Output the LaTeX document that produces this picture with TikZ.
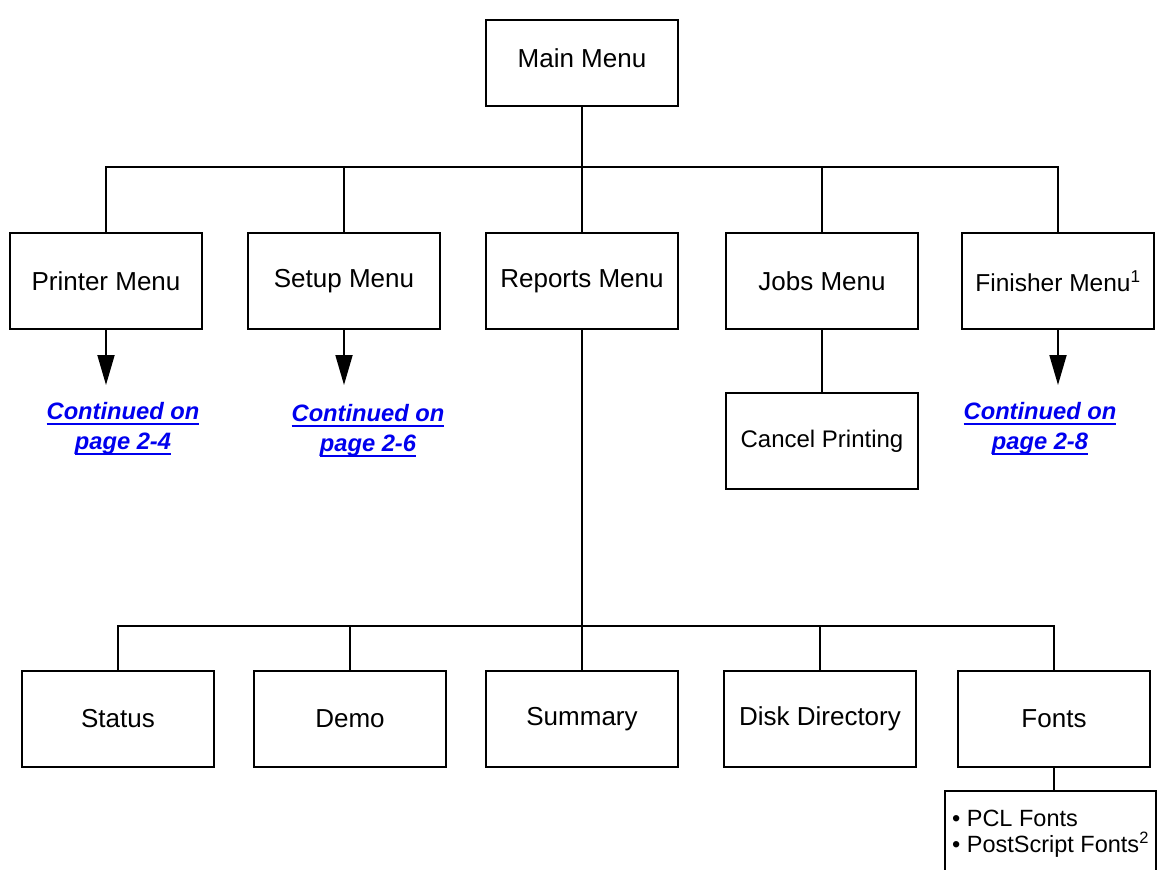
\documentclass[tikz,border=0pt]{standalone}
\usepackage{fontspec}
\setmainfont{Liberation Sans}
\usepackage{xcolor}
\usetikzlibrary{positioning,arrows.meta}
\definecolor{linkblue}{RGB}{0,0,238}
\newcommand{\ulink}[1]{\setbox0\hbox{#1}\leavevmode\rlap{\rule[-6pt]{\wd0}{2pt}}\box0}

\tikzset{
    menubox/.style={draw, rectangle, line width=1.8pt, minimum width=192pt, minimum height=96pt, inner sep=2pt, outer sep=0pt, font=\fontsize{26}{30}\selectfont},
    link/.style={text=linkblue, align=center, inner sep=0pt, font=\fontsize{23.7}{30}\selectfont\bfseries\itshape},
    tree/.style={line width=1.8pt},
    cont/.style={line width=1.8pt, -{Triangle[length=30pt,width=17pt]}}
}

\begin{document}
\begin{tikzpicture}[x=1pt, y=-1pt]
    \useasboundingbox (0,0) rectangle (1162,870);
    \clip (0,0) rectangle (1162,870);

    \node [menubox, minimum height=86pt, text depth=10pt] (main) at (582,63) {Main Menu};
    \coordinate [below=61pt of main] (topbus);

    % first level
    \node [menubox, below=127pt of main] (reports) {Reports Menu};
    \node [menubox, left=46pt of reports] (setup) {Setup Menu};
    \node [menubox, left=46pt of setup] (printer) {Printer Menu};
    \node [menubox, right=48pt of reports] (jobs) {Jobs Menu};
    \node [menubox, right=44pt of jobs, font=\fontsize{24.5}{28}\selectfont] (finisher) {Finisher Menu\textsuperscript{1}};
    \node [menubox, below=64pt of jobs, font=\fontsize{24}{28}\selectfont] (cancel) {Cancel Printing};

    % continued links
    \coordinate [below=56pt of printer] (printer-tip);
    \coordinate [below=56pt of setup] (setup-tip);
    \coordinate [below=56pt of finisher] (finisher-tip);
    \node [link, below=17pt of printer-tip, xshift=17pt] (printer-link) {\ulink{Continued on}\\\ulink{page 2-4}};
    \node [link, below=19pt of setup-tip, xshift=24pt] (setup-link) {\ulink{Continued on}\\\ulink{page 2-6}};
    \node [link, below=17pt of finisher-tip, xshift=-18pt] (finisher-link) {\ulink{Continued on}\\\ulink{page 2-8}};

    % reports submenu
    \node [menubox, below=342pt of reports] (summary) {Summary};
    \node [menubox, left=40pt of summary] (demo) {Demo};
    \node [menubox, left=40pt of demo] (status) {Status};
    \node [menubox, right=46pt of summary] (disk) {Disk Directory};
    \node [menubox, right=42pt of disk] (fonts) {Fonts};
    \node [draw, rectangle, line width=1.8pt, minimum width=211pt, minimum height=86pt, inner xsep=2pt, align=left,
           font=\fontsize{23.5}{26}\selectfont, below=23pt of fonts, xshift=-3.5pt] (fontlist)
          {\textbullet{} PCL Fonts\\\textbullet{} PostScript Fonts\textsuperscript{2}};
    \coordinate (lowbus) at (582,626);

    \draw [tree] (main) -- (topbus);
    \draw [tree] (printer.north) |- (topbus) -| (finisher.north);
    \draw [tree] (topbus -| setup) -- (setup);
    \draw [tree] (topbus) -- (reports);
    \draw [tree] (topbus -| jobs) -- (jobs);
    \draw [tree] (jobs) -- (cancel);

    \draw [cont] (printer) -- (printer-tip);
    \draw [cont] (setup) -- (setup-tip);
    \draw [cont] (finisher) -- (finisher-tip);

    \draw [tree] (reports) -- (lowbus);
    \draw [tree] (status.north) |- (lowbus) -| (fonts.north);
    \draw [tree] (lowbus -| demo) -- (demo);
    \draw [tree] (lowbus) -- (summary);
    \draw [tree] (lowbus -| disk) -- (disk);
    \draw [tree] (fonts.south) -- (fonts.south |- fontlist.north);
\end{tikzpicture}
\end{document}
